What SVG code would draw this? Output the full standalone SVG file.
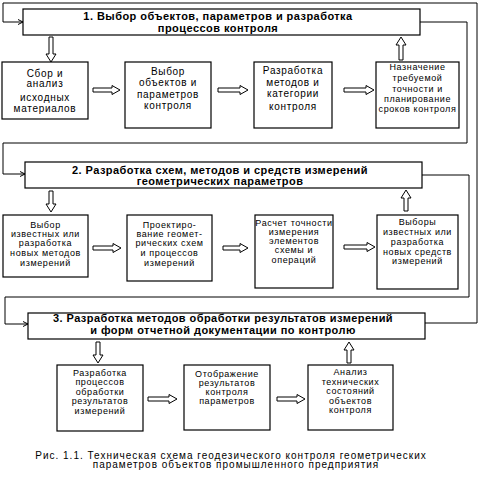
<svg xmlns="http://www.w3.org/2000/svg" width="479" height="480" viewBox="0 0 479 480">
<defs>
<style>
.box{fill:#fff;stroke:#000;stroke-width:1.2}
.hd{font-family:"Liberation Sans",Arial,sans-serif;font-size:11px;font-weight:bold;text-anchor:middle;fill:#000;letter-spacing:0.45px}
.t{font-family:"Liberation Sans",Arial,sans-serif;font-size:10px;text-anchor:middle;fill:#000;letter-spacing:0.7px}
.s{font-family:"Liberation Sans",Arial,sans-serif;font-size:9px;text-anchor:middle;fill:#000;letter-spacing:0.6px}
.cap{font-family:"Liberation Sans",Arial,sans-serif;font-size:10px;text-anchor:middle;fill:#000;letter-spacing:1px}
.ln{fill:none;stroke:#000;stroke-width:1}
.ba{fill:#fff;stroke:#000;stroke-width:1}
</style>
<marker id="ah" markerWidth="8" markerHeight="8" refX="6" refY="4" orient="auto" markerUnits="userSpaceOnUse">
<path d="M1,1.5 L6,4 L1,6.5" fill="none" stroke="#000" stroke-width="1"/>
</marker>
</defs>
<rect width="479" height="480" fill="#fff"/>

<g id="connectors">
<path class="ln" d="M425,323 H477 V3 H3 V22 H23" marker-end="url(#ah)"/>
<path class="ln" d="M420,22 H467 V143 H3 V174 H25" marker-end="url(#ah)"/>
<path class="ln" d="M422,175 H469 V297 H5 V324 H28" marker-end="url(#ah)"/>
<path class="ba" d="M49,37 H53 V54 H56 L51,62 L46,54 H49 Z"/>
<path class="ba" d="M49,191 H53 V204 H56 L51,212 L46,204 H49 Z"/>
<path class="ba" d="M96,342 H100 V355 H103 L98,363 L93,355 H96 Z"/>
<path class="ba" d="M399,60 H403 V45 H406 L401,37 L396,45 H399 Z"/>
<path class="ba" d="M404,211 H408 V198 H411 L406,190 L401,198 H404 Z"/>
<path class="ba" d="M347,363 H351 V350 H354 L349,342 L344,350 H347 Z"/>
<path class="ba" d="M93,88 H112 V85.5 L120,90 L112,94.5 V92 H93 Z"/>
<path class="ba" d="M218,88 H240 V85.5 L248,90 L240,94.5 V92 H218 Z"/>
<path class="ba" d="M344,88 H366 V85.5 L374,90 L366,94.5 V92 H344 Z"/>
<path class="ba" d="M93,246 H113 V243.5 L121,248 L113,252.5 V250 H93 Z"/>
<path class="ba" d="M223,246 H240 V243.5 L248,248 L240,252.5 V250 H223 Z"/>
<path class="ba" d="M344,245 H367 V242.5 L375,247 L367,251.5 V249 H344 Z"/>
<path class="ba" d="M148,397 H169 V394.5 L177,399 L169,403.5 V401 H148 Z"/>
<path class="ba" d="M277,397 H297 V394.5 L305,399 L297,403.5 V401 H277 Z"/>
</g>

<g id="h1">
<rect class="box" x="23" y="9" width="397" height="26"/>
<text class="hd" x="218" y="20">1. Выбор объектов, параметров и разработка</text>
<text class="hd" x="218" y="31.5">процессов контроля</text>
</g>
<g id="a1">
<rect class="box" x="2" y="62" width="86" height="57"/>
<text class="t" x="45" y="76.5">Сбор и</text>
<text class="t" x="45" y="86.5">анализ</text>
<text class="t" x="45" y="100.5">исходных</text>
<text class="t" x="45" y="111.5">материалов</text>
</g>
<g id="b1">
<rect class="box" x="125" y="62" width="86" height="66"/>
<text class="t" x="168" y="75">Выбор</text>
<text class="t" x="168" y="86">объектов и</text>
<text class="t" x="168" y="98">параметров</text>
<text class="t" x="168" y="109">контроля</text>
</g>
<g id="c1">
<rect class="box" x="254" y="62" width="78" height="66"/>
<text class="t" x="293" y="74">Разработка</text>
<text class="t" x="293" y="85.5">методов и</text>
<text class="t" x="293" y="97">категории</text>
<text class="t" x="293" y="109.5">контроля</text>
</g>
<g id="d1">
<rect class="box" x="376" y="62" width="83" height="66"/>
<text class="s" x="417.5" y="70">Назначение</text>
<text class="s" x="417.5" y="80.5">требуемой</text>
<text class="s" x="417.5" y="91.5">точности и</text>
<text class="s" x="417.5" y="102">планирование</text>
<text class="s" x="417.5" y="111.5">сроков контроля</text>
</g>

<g id="h2">
<rect class="box" x="25" y="162" width="397" height="26"/>
<text class="hd" x="220" y="173.5">2. Разработка схем, методов и средств измерений</text>
<text class="hd" x="220" y="184.5">геометрических параметров</text>
</g>
<g id="e2">
<rect class="box" x="3" y="215" width="85" height="62"/>
<text class="s" x="45.5" y="227.5">Выбор</text>
<text class="s" x="45.5" y="236.5">известных или</text>
<text class="s" x="45.5" y="245.5">разработка</text>
<text class="s" x="45.5" y="255.5">новых методов</text>
<text class="s" x="45.5" y="265.5">измерений</text>
</g>
<g id="f2">
<rect class="box" x="127" y="215" width="85" height="66"/>
<text class="s" x="169.5" y="227.5">Проектиро-</text>
<text class="s" x="169.5" y="236.5">вание геомет-</text>
<text class="s" x="169.5" y="245.5">рических схем</text>
<text class="s" x="169.5" y="255.5">и процессов</text>
<text class="s" x="169.5" y="265.5">измерений</text>
</g>
<g id="g2">
<rect class="box" x="255" y="215" width="78" height="73"/>
<text class="s" x="294" y="226">Расчет точности</text>
<text class="s" x="294" y="235">измерения</text>
<text class="s" x="294" y="244">элементов</text>
<text class="s" x="294" y="253">схемы и</text>
<text class="s" x="294" y="262.5">операций</text>
</g>
<g id="h2b">
<rect class="box" x="377" y="215" width="81" height="74"/>
<text class="s" x="417.5" y="225">Выборы</text>
<text class="s" x="417.5" y="234.5">известных или</text>
<text class="s" x="417.5" y="244.5">разработка</text>
<text class="s" x="417.5" y="254.5">новых средств</text>
<text class="s" x="417.5" y="263.5">измерений</text>
</g>

<g id="h3">
<rect class="box" x="28" y="313" width="397" height="26"/>
<text class="hd" x="223" y="322">3. Разработка методов обработки результатов измерений</text>
<text class="hd" x="223" y="334">и форм отчетной документации по контролю</text>
</g>
<g id="i3">
<rect class="box" x="57" y="365" width="86" height="66"/>
<text class="s" x="100" y="376">Разработка</text>
<text class="s" x="100" y="385">процессов</text>
<text class="s" x="100" y="394.5">обработки</text>
<text class="s" x="100" y="404">результатов</text>
<text class="s" x="100" y="413.5">измерений</text>
</g>
<g id="j3">
<rect class="box" x="184" y="365" width="86" height="65"/>
<text class="s" x="227" y="376.5">Отображение</text>
<text class="s" x="227" y="385.5">результатов</text>
<text class="s" x="227" y="394.5">контроля</text>
<text class="s" x="227" y="403.5">параметров</text>
</g>
<g id="k3">
<rect class="box" x="308" y="365" width="85" height="65"/>
<text class="s" x="350.5" y="375">Анализ</text>
<text class="s" x="350.5" y="384.5">технических</text>
<text class="s" x="350.5" y="394">состояний</text>
<text class="s" x="350.5" y="403.5">объектов</text>
<text class="s" x="350.5" y="412.5">контроля</text>
</g>

<g id="caption">
<text class="cap" x="231" y="458.5">Рис. 1.1. Техническая схема геодезического контроля геометрических</text>
<text class="cap" x="236" y="468">параметров объектов промышленного предприятия</text>
</g>
</svg>
